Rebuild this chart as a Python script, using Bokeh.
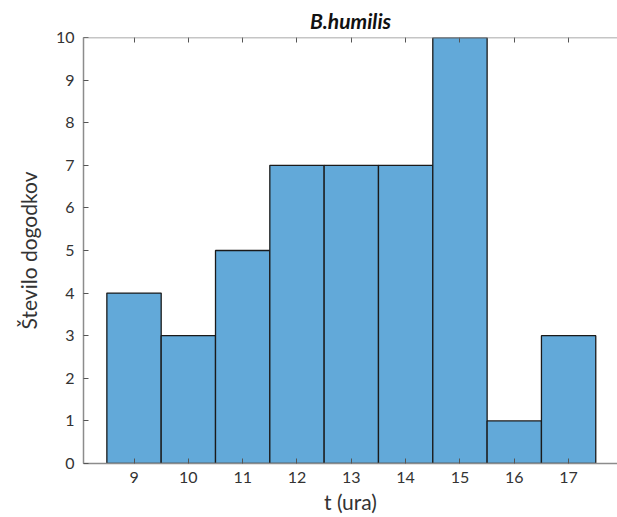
from bokeh.plotting import figure
from bokeh.models import FixedTicker, LinearAxis, Span, Range1d
from bokeh.embed import file_html
from bokeh.resources import INLINE

hours = [9, 10, 11, 12, 13, 14, 15, 16, 17]
counts = [4, 3, 5, 7, 7, 7, 10, 1, 3]
y_ticks = list(range(0, 11))
title_text = "B.humilis"
x_label = "t (ura)"
y_label = "Število dogodkov"

FONT = "Lato"
AX_COL = "#8c8c8c"
TXT_COL = "#333333"

p = figure(width=617, height=517, output_backend="svg", toolbar_location=None,
           x_range=Range1d(8.07, 17.9), y_range=Range1d(0, 10),
           min_border_left=83, min_border_right=0, min_border_top=37, min_border_bottom=54)

p.vbar(x=hours, top=counts, width=1, bottom=0,
       fill_color="#62a9d9", line_color="#1a1a1a", line_width=1.3)

p.outline_line_color = None
p.xgrid.visible = False
p.ygrid.visible = False

p.title.text = title_text
p.title.align = "center"
p.title.text_font = FONT
p.title.text_font_style = "bold italic"
p.title.text_font_size = "21px"
p.title.text_color = "#111111"
p.title.offset = 0

for ax in (p.xaxis[0], p.yaxis[0]):
    ax.axis_line_color = AX_COL
    ax.axis_line_width = 1.5
    ax.major_tick_line_color = "#555555"
    ax.major_tick_in = 5
    ax.major_tick_out = 0
    ax.minor_tick_line_color = None
    ax.major_label_text_font = FONT
    ax.major_label_text_font_size = "16px"
    ax.major_label_text_color = TXT_COL
    ax.axis_label_text_font = FONT
    ax.axis_label_text_font_size = "21px"
    ax.axis_label_text_font_style = "normal"
    ax.axis_label_text_color = TXT_COL

p.xaxis[0].ticker = FixedTicker(ticks=hours)
p.xaxis[0].axis_label = x_label
p.xaxis[0].major_label_standoff = 8
p.xaxis[0].axis_label_standoff = 3

p.yaxis[0].ticker = FixedTicker(ticks=y_ticks)
p.yaxis[0].axis_label = y_label
p.yaxis[0].major_label_standoff = 9
p.yaxis[0].axis_label_standoff = 12

top_ax = LinearAxis(ticker=FixedTicker(ticks=hours))
top_ax.axis_line_color = None
top_ax.major_tick_line_color = "#555555"
top_ax.major_tick_in = 5
top_ax.major_tick_out = 0
top_ax.minor_tick_line_color = None
top_ax.major_label_overrides = {h: "" for h in hours}
top_ax.major_label_text_font_size = "1px"
top_ax.major_label_text_color = None
top_ax.major_label_standoff = 0
p.add_layout(top_ax, "above")

p.add_layout(Span(location=10, dimension="width", line_color=AX_COL, line_width=1.5))

open("out.html", "w").write(file_html(p, INLINE))
